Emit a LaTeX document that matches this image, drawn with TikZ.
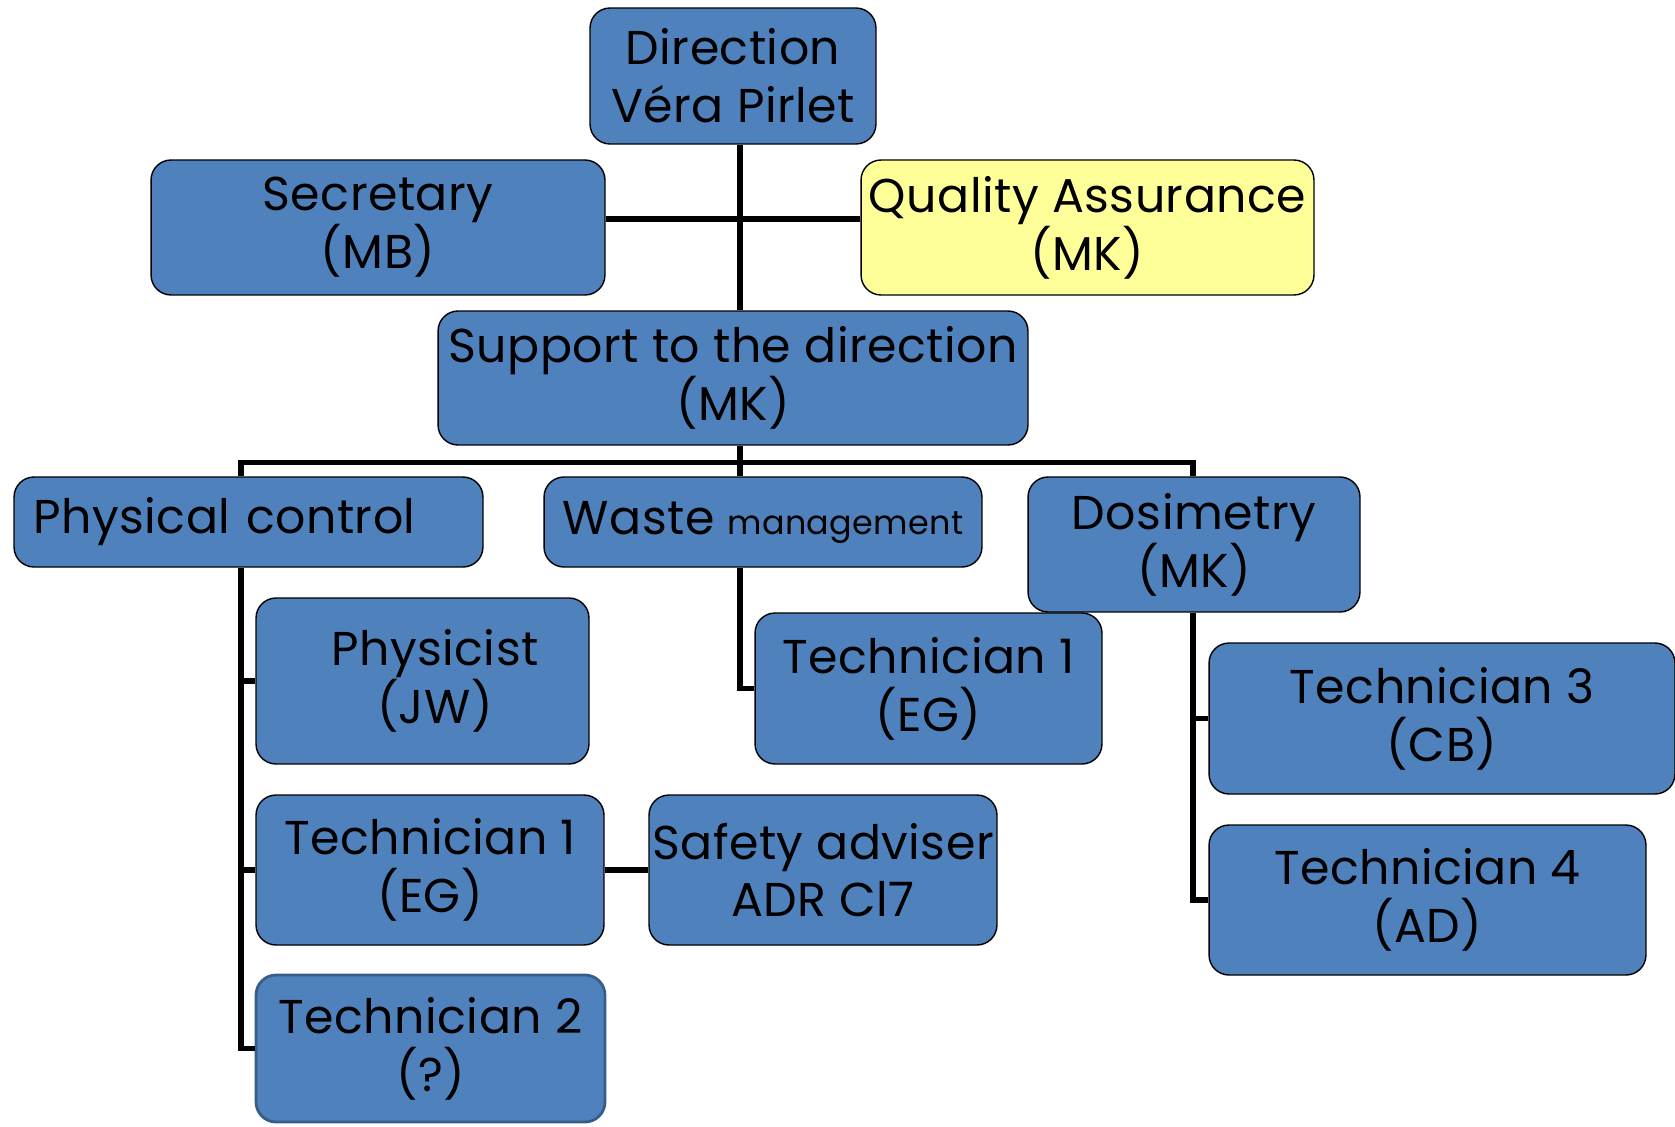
\documentclass[tikz,border=0pt]{standalone}
\usepackage{fontspec}
\setmainfont{Poppins}[LetterSpace=1]
\definecolor{boxblue}{HTML}{4F81BD}
\definecolor{boxedge}{HTML}{385D8A}
\definecolor{qayellow}{HTML}{FFFF99}
\begin{document}
\begin{tikzpicture}[x=0.02cm,y=-0.02cm,
    box/.style={draw=black,line width=0.8pt,fill=boxblue,rounded corners=0.4cm,
      align=center,inner sep=0pt,font=\fontsize{27}{33}\selectfont},
    wire/.style={line width=3pt}]
  \useasboundingbox (0,0) rectangle (1675,1126);
  \coordinate (spine) at (740,0);
  \coordinate (pcs) at (241,0);
  \coordinate (dss) at (1193,0);
  \coordinate (bus) at (0,462.5);
  \node[box,minimum width=5.72cm,minimum height=2.72cm] (dir) at (733,76) {Direction\\Véra Pirlet};
  \node[box,minimum width=9.08cm,minimum height=2.70cm] (sec) at (378,227.5) {Secretary\\(MB)};
  \node[box,fill=qayellow,minimum width=9.06cm,minimum height=2.70cm] (qa) at (1087.5,227.5) {Quality Assurance\\(MK)};
  \node[box,minimum width=11.8cm,minimum height=2.68cm] (sup) at (733,378) {Support to the direction\\(MK)};
  \node[box,minimum width=9.38cm,minimum height=1.80cm,text width=8.6cm,align=left] (pc) at (248.5,522) {Physical control};
  \node[box,minimum width=8.76cm,minimum height=1.80cm] (waste) at (763,522) {Waste {\fontsize{19}{22}\selectfont management}};
  \node[box,minimum width=6.64cm,minimum height=2.70cm] (dos) at (1194,544.5) {Dosimetry\\(MK)};
  \node[box,minimum width=6.66cm,minimum height=3.32cm] (phys) at (422.5,681) {\hspace*{0.5cm}Physicist\\\hspace*{0.5cm}(JW)};
  \node[box,minimum width=6.94cm,minimum height=3.02cm] (tw1) at (928.5,688.5) {Technician 1\\(EG)};
  \node[box,minimum width=9.32cm,minimum height=3.02cm] (t3) at (1442,718.5) {Technician 3\\(CB)};
  \node[box,minimum width=6.96cm,minimum height=3.00cm] (tp1) at (430,870) {Technician 1\\(EG)};
  \node[box,minimum width=6.96cm,minimum height=3.00cm] (saf) at (823,870) {Safety adviser\\ADR Cl7};
  \node[box,minimum width=8.74cm,minimum height=3.00cm] (t4) at (1427.5,900) {Technician 4\\(AD)};
  \node[box,draw=boxedge,line width=1.6pt,minimum width=6.98cm,minimum height=2.94cm] (t2) at (430.5,1048.5) {Technician 2\\(?)};
  \draw[wire] (dir.south -| spine) -- (sup.north -| spine);
  \draw[wire] ([yshift=0.17cm]sec.east) -- ([yshift=0.17cm]qa.west);
  \draw[wire] (sup.south -| spine) -- (waste.north -| spine);
  \draw[wire] (pc.north -| pcs) -- (pcs |- bus) -- (dss |- bus) -- (dos.north -| dss);
  \draw[wire] (pc.south -| pcs) |- (t2.west);
  \draw[wire] (pcs |- phys.west) -- (phys.west);
  \draw[wire] (pcs |- tp1.west) -- (tp1.west);
  \draw[wire] (tp1.east) -- (saf.west);
  \draw[wire] (waste.south -| spine) |- (tw1.west);
  \draw[wire] (dos.south -| dss) |- (t4.west);
  \draw[wire] (dss |- t3.west) -- (t3.west);
\end{tikzpicture}
\end{document}
